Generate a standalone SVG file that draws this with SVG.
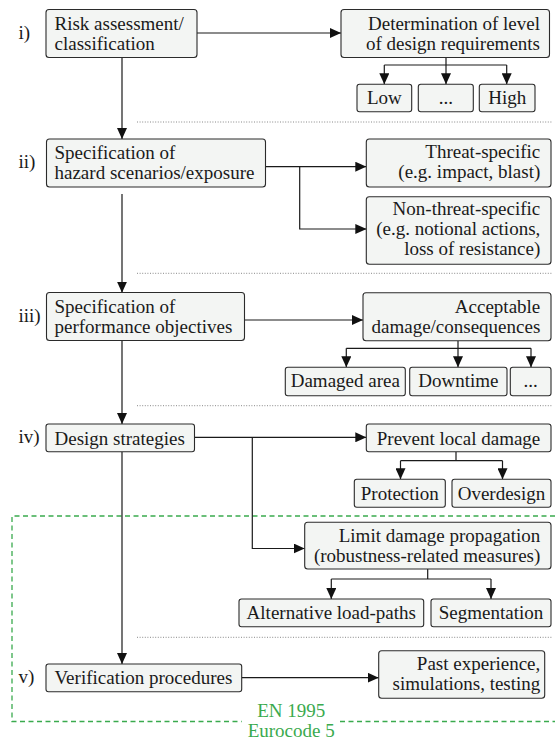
<svg xmlns="http://www.w3.org/2000/svg" width="555" height="740" viewBox="0 0 555 740">
<style>
  .box { fill: #f3f5f3; stroke: #2b2b2b; stroke-width: 1.1; }
  text { font-size: 19px; fill: #1a1a1a; }
  .r { text-anchor: end; }
  .c { text-anchor: middle; }
  .con { fill: none; stroke: #1a1a1a; stroke-width: 1.2; }
  .arr { marker-end: url(#ah); }
  .sep { stroke: #888; stroke-width: 1; stroke-dasharray: 1 1.6; fill: none; }
  .green { stroke: #3aaa4e; stroke-width: 1.3; stroke-dasharray: 5 3.5; fill: none; }
  .gt { fill: #3aaa4e; text-anchor: middle; }
</style>
<defs>
  <marker id="ah" markerUnits="userSpaceOnUse" markerWidth="11" markerHeight="10" refX="11" refY="5" orient="auto">
    <path d="M0,0 L11,5 L0,10 z" fill="#111"/>
  </marker>
</defs>
<g font-family="'Liberation Serif', Tinos, 'Times New Roman', 'DejaVu Serif', serif">

<g id="separators">
  <line class="sep" x1="137" y1="122" x2="552" y2="122"/>
  <line class="sep" x1="137" y1="273.3" x2="552" y2="273.3"/>
  <line class="sep" x1="137" y1="405.7" x2="552" y2="405.7"/>
  <line class="sep" x1="137" y1="637.3" x2="552" y2="637.3"/>
</g>

<g id="eurocode-region">
  <path class="green" d="M555,516 L12,516 L12,721.5 L241.7,721.5"/>
  <path class="green" d="M340,721.5 L555,721.5"/>
  <text class="gt" x="291.3" y="716.7">EN 1995</text>
  <text class="gt" x="291.2" y="736.7">Eurocode 5</text>
</g>

<g id="connectors">
  <line class="con arr" x1="122" y1="57.5" x2="122" y2="139"/>
  <line class="con arr" x1="122" y1="194" x2="122" y2="292.7"/>
  <line class="con arr" x1="122" y1="340.7" x2="122" y2="424"/>
  <line class="con arr" x1="122" y1="451.7" x2="122" y2="664"/>
  <line class="con arr" x1="197" y1="33" x2="341" y2="33"/>
  <path class="con" d="M446,57.5 L446,65 M384.3,65 L506.7,65"/>
  <line class="con arr" x1="384.3" y1="65" x2="384.3" y2="84.3"/>
  <line class="con arr" x1="446" y1="65" x2="446" y2="84.3"/>
  <line class="con arr" x1="506.7" y1="65" x2="506.7" y2="84.3"/>
  <line class="con arr" x1="265.5" y1="166.7" x2="366.3" y2="166.7"/>
  <path class="con arr" d="M299.7,166.7 L299.7,229 L366.3,229"/>
  <line class="con arr" x1="244.5" y1="320" x2="363" y2="320"/>
  <path class="con" d="M458,340.7 L458,348.3 M346.3,348.3 L531,348.3"/>
  <line class="con arr" x1="346.3" y1="348.3" x2="346.3" y2="367.3"/>
  <line class="con arr" x1="458" y1="348.3" x2="458" y2="367.3"/>
  <line class="con arr" x1="531" y1="348.3" x2="531" y2="367.3"/>
  <line class="con arr" x1="194.5" y1="437.3" x2="366.3" y2="437.3"/>
  <path class="con arr" d="M252.3,437.3 L252.3,548.5 L304.7,548.5"/>
  <path class="con" d="M456,451.7 L456,460.7 M400.5,460.7 L502.5,460.7"/>
  <line class="con arr" x1="400.5" y1="460.7" x2="400.5" y2="479.3"/>
  <line class="con arr" x1="502.5" y1="460.7" x2="502.5" y2="479.3"/>
  <path class="con" d="M427.7,569 L427.7,579 M331.3,579 L491,579"/>
  <line class="con arr" x1="331.3" y1="579" x2="331.3" y2="599"/>
  <line class="con arr" x1="491" y1="579" x2="491" y2="599"/>
  <line class="con arr" x1="241.7" y1="677.7" x2="378.7" y2="677.7"/>
</g>

<g id="labels">
  <text x="18.5" y="38.5">i)</text>
  <text x="18.5" y="168">ii)</text>
  <text x="18.5" y="322">iii)</text>
  <text x="18.5" y="443">iv)</text>
  <text x="18.5" y="683">v)</text>
</g>

<g id="n-risk">
  <rect class="box" x="46" y="9.5" width="151" height="48" rx="3"/>
  <text x="54.5" y="30">Risk assessment/</text>
  <text x="54.5" y="49.5">classification</text>
</g>
<g id="n-determination">
  <rect class="box" x="341" y="9.5" width="208.5" height="48" rx="3"/>
  <text class="r" x="540" y="29.5">Determination of level</text>
  <text class="r" x="540" y="49.5">of design requirements</text>
</g>
<g id="n-low">
  <rect class="box" x="357" y="84.3" width="54.7" height="27.4" rx="2.5"/>
  <text class="c" x="384.3" y="104">Low</text>
</g>
<g id="n-mid1">
  <rect class="box" x="418.3" y="84.3" width="55" height="27.4" rx="2.5"/>
  <text class="c" x="445.8" y="104">...</text>
</g>
<g id="n-high">
  <rect class="box" x="479.3" y="84.3" width="55.7" height="27.4" rx="2.5"/>
  <text class="c" x="507.2" y="104">High</text>
</g>

<g id="n-hazard">
  <rect class="box" x="46.5" y="139" width="219" height="48" rx="3"/>
  <text x="54.5" y="158.5">Specification of</text>
  <text x="54.5" y="178.5">hazard scenarios/exposure</text>
</g>
<g id="n-threat">
  <rect class="box" x="366.3" y="139" width="184.7" height="48" rx="3"/>
  <text class="r" x="540.3" y="158">Threat-specific</text>
  <text class="r" x="540.3" y="178">(e.g. impact, blast)</text>
</g>
<g id="n-nonthreat">
  <rect class="box" x="366.3" y="196.7" width="184.7" height="67.6" rx="3"/>
  <text class="r" x="540.3" y="215">Non-threat-specific</text>
  <text class="r" x="540.3" y="235">(e.g. notional actions,</text>
  <text class="r" x="540.3" y="255">loss of resistance)</text>
</g>

<g id="n-performance">
  <rect class="box" x="46.5" y="292.5" width="198" height="48" rx="3"/>
  <text x="54.5" y="312.5">Specification of</text>
  <text x="54.5" y="332.5">performance objectives</text>
</g>
<g id="n-acceptable">
  <rect class="box" x="363" y="292.7" width="188" height="48" rx="3"/>
  <text class="r" x="540.3" y="312.5">Acceptable</text>
  <text class="r" x="540.3" y="332.5">damage/consequences</text>
</g>
<g id="n-damaged">
  <rect class="box" x="285.3" y="367.3" width="120" height="28.4" rx="2.5"/>
  <text class="c" x="345.3" y="387.3">Damaged area</text>
</g>
<g id="n-downtime">
  <rect class="box" x="409.7" y="367.3" width="97.3" height="28.4" rx="2.5"/>
  <text class="c" x="458.3" y="387.3">Downtime</text>
</g>
<g id="n-mid2">
  <rect class="box" x="510.3" y="367.3" width="40.7" height="28.4" rx="2.5"/>
  <text class="c" x="530.7" y="387.3">...</text>
</g>

<g id="n-design">
  <rect class="box" x="46" y="424" width="148.5" height="27.7" rx="2.5"/>
  <text x="54.5" y="444.5">Design strategies</text>
</g>
<g id="n-prevent">
  <rect class="box" x="366.3" y="424" width="184.7" height="27.7" rx="2.5"/>
  <text class="r" x="540.3" y="444.5">Prevent local damage</text>
</g>
<g id="n-protection">
  <rect class="box" x="354.3" y="479.3" width="91" height="28" rx="2.5"/>
  <text class="c" x="399.8" y="499.5">Protection</text>
</g>
<g id="n-overdesign">
  <rect class="box" x="452" y="479.3" width="99" height="28" rx="2.5"/>
  <text class="c" x="501.5" y="499.5">Overdesign</text>
</g>
<g id="n-limit">
  <rect class="box" x="304.7" y="522.3" width="246.3" height="46.7" rx="3"/>
  <text class="r" x="540.3" y="541.7">Limit damage propagation</text>
  <text class="r" x="540.3" y="561.7">(robustness-related measures)</text>
</g>
<g id="n-altpaths">
  <rect class="box" x="239" y="599" width="184.7" height="27.7" rx="2.5"/>
  <text class="c" x="331.3" y="619">Alternative load-paths</text>
</g>
<g id="n-segmentation">
  <rect class="box" x="431" y="599" width="120" height="27.7" rx="2.5"/>
  <text class="c" x="491" y="619">Segmentation</text>
</g>

<g id="n-verification">
  <rect class="box" x="46" y="664" width="195.7" height="27.7" rx="2.5"/>
  <text x="54.5" y="684">Verification procedures</text>
</g>
<g id="n-past">
  <rect class="box" x="378.7" y="650.7" width="166" height="47.6" rx="3"/>
  <text class="r" x="540.3" y="669.5">Past experience,</text>
  <text class="r" x="540.3" y="689.5">simulations, testing</text>
</g>
</g>
</svg>
